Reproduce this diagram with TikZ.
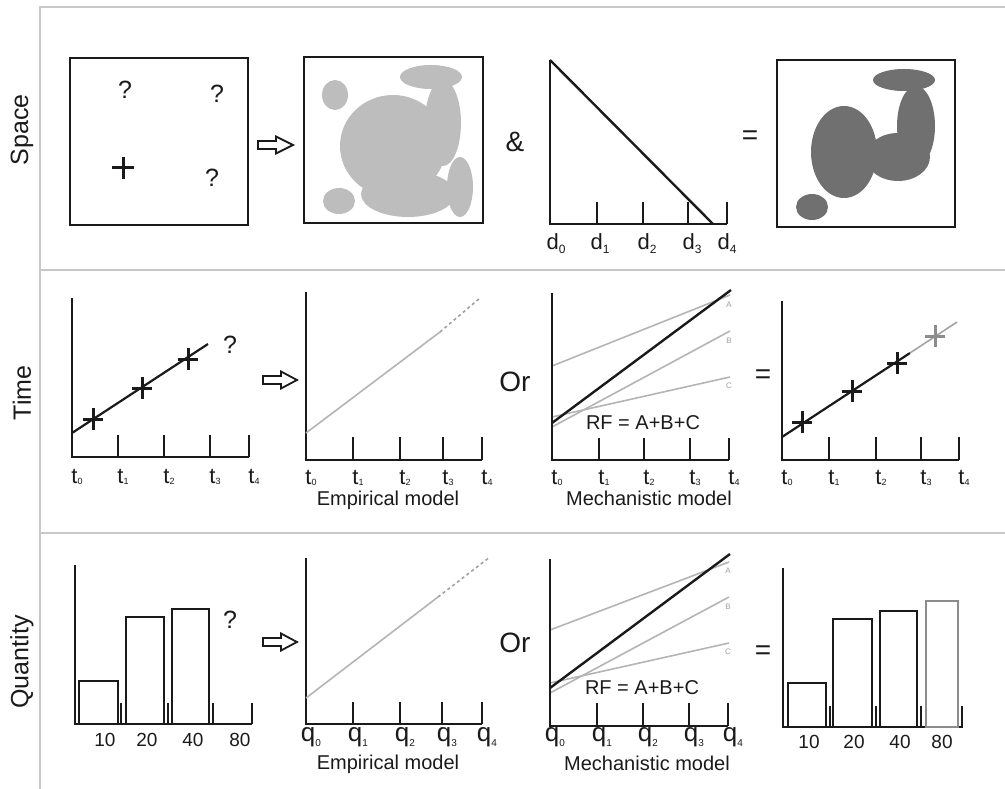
\documentclass[tikz,border=0pt]{standalone}
\usepackage{fontspec}
\setmainfont{Liberation Sans}
\definecolor{frame}{HTML}{C8C8C8}
\definecolor{lgray}{HTML}{BDBDBD}
\definecolor{dgray}{HTML}{707070}
\definecolor{lineg}{HTML}{B4B4B4}
\definecolor{labg}{HTML}{A0A0A0}
\definecolor{midg}{HTML}{8C8C8C}
\definecolor{ink}{HTML}{1A1A1A}
% letter, index, index size, lowering
\newcommand\axl[4]{#1\raisebox{-#4pt}{\fontsize{#3}{#3}\selectfont #2}}
\newcommand\fs[1]{\fontsize{#1}{#1}\selectfont}
\tikzset{
  boxline/.style={draw=ink,line width=2.2pt},
  axisline/.style={draw=ink,line width=2.6pt},
  tickline/.style={draw=ink,line width=2.2pt},
  fitline/.style={draw=ink,line width=2.2pt},
  grayline/.style={draw=lineg,line width=1.6pt},
  dashgray/.style={draw=labg,line width=1.6pt,dash pattern=on 3pt off 3pt},
  crossline/.style={draw=ink,line width=3pt},
  framel/.style={draw=frame,line width=2pt},
  tlab/.style={text=ink,font=\fs{22},inner sep=0pt,anchor=base},
  dlab/.style={text=ink,font=\fs{22},inner sep=0pt,anchor=base},
  qqlab/.style={text=ink,font=\fs{26},inner sep=0pt,anchor=base},
  qlab/.style={text=ink,font=\fs{25},inner sep=0pt},
  numlab/.style={text=ink,font=\fs{19},inner sep=0pt},
  caption/.style={text=ink,font=\fs{20},inner sep=0pt,anchor=base},
  plain/.style={text=ink,font=\fs{20},inner sep=0pt},
  rowlab/.style={text=ink,font=\fs{25},rotate=90,inner sep=0pt},
  sym/.style={text=ink,font=\fs{28},inner sep=0pt},
  abc/.style={text=labg,font=\fs{8},inner sep=0pt},
  hollowarrow/.style={draw=ink,line width=1.8pt,fill=white,line join=miter},
}
\begin{document}
\begin{tikzpicture}[x=1pt,y=-1pt]
\useasboundingbox (0,0) rectangle (1005,789);
% frame
\draw[framel] (40,789) -- (40,7) -- (1005,7);
\draw[framel] (40,270) -- (1005,270);
\draw[framel] (40,533) -- (1005,533);
% row labels
\node[rowlab] (rspace) at (22,130) {Space};
\node[rowlab] (rtime) at (22,393) {Time};
\node[rowlab] (rquant) at (22,662) {Quantity};

% ===== SPACE ROW =====
\draw[boxline] (70,58) rectangle (248,225);
\node[qlab] (q1) at (125,90) {?};
\node[qlab] (q2) at (217,94) {?};
\node[qlab] (q3) at (212,178) {?};
\draw[crossline] (112,168) -- (134,168) (123,157) -- (123,179);
% arrow
\draw[hollowarrow] (258,141) -- (276,141) -- (276,136.5) -- (293,145) -- (276,153.5) -- (276,149) -- (258,149) -- cycle;
% blobs light
\begin{scope}[fill=lgray]
\fill (335,95) ellipse [x radius=13,y radius=15];
\fill (431,77) ellipse [x radius=31,y radius=12];
\fill (443,123) ellipse [x radius=18,y radius=43];
\fill (393,146) ellipse [x radius=53,y radius=51];
\fill (408,194) ellipse [x radius=47,y radius=23];
\fill (460,187) ellipse [x radius=13,y radius=30];
\fill (339,201) ellipse [x radius=16,y radius=13];
\end{scope}
\draw[boxline] (304,57) rectangle (483,223);
\node[sym] (amp) at (515,142) {\&};
% distance plot
\draw[axisline] (550,60) -- (550,224) -- (727,224);
\foreach \x in {597,643,688,727} \draw[tickline] (\x,224) -- (\x,202);
\draw[fitline,line width=2.4pt] (550,60) -- (713,224);
\foreach \x/\i in {556/0,600/1,647/2,692/3,727/4}
  \node[dlab] (d\i) at (\x,250) {\axl{d}{\i}{12}{4}};
\node[sym] (eq1) at (750,138) {=};
% dark blobs
\begin{scope}[fill=dgray]
\fill (904,80) ellipse [x radius=31,y radius=11];
\fill (916,126) ellipse [x radius=19,y radius=40];
\fill (844,152) ellipse [x radius=33,y radius=46];
\fill (898,157) ellipse [x radius=32,y radius=24];
\fill (812,207) ellipse [x radius=16,y radius=13];
\end{scope}
\draw[boxline] (777,60) rectangle (955,227);

% ===== TIME ROW =====
\draw[axisline] (72,298) -- (72,457) -- (249,457);
\foreach \x in {118,164,210,249} \draw[tickline] (\x,457) -- (\x,435);
\draw[fitline] (72,433) -- (208,344);
\foreach \x/\y in {93/419,142/388,188/359}
  \draw[crossline] (\x-10,\y) -- (\x+10,\y) (\x,\y-11) -- (\x,\y+11);
\node[qlab] (q4) at (230,345) {?};
\foreach \x/\i in {77/0,123/1,169/2,215/3,254/4}
  \node[tlab] (ta\i) at (\x,483) {\axl{t}{\i}{9}{1}};
\draw[hollowarrow] (263,376) -- (281,376) -- (281,371.5) -- (297,380) -- (281,388.5) -- (281,384) -- (263,384) -- cycle;
% empirical
\draw[axisline] (306,292) -- (306,460) -- (482,460);
\foreach \x in {353,400,443,482} \draw[tickline] (\x,460) -- (\x,437);
\draw[grayline] (306,433) -- (440,332);
\draw[dashgray] (440,332) -- (480,298);
\foreach \x/\i in {311/0,358/1,405/2,448/3,487/4}
  \node[tlab] (tb\i) at (\x,484) {\axl{t}{\i}{9}{1}};
\node[caption] (emp1) at (388,505) {Empirical model};
% mechanistic
\node[sym] (or1) at (515,382) {Or};
\draw[grayline] (552,366) -- (730,295);
\draw[grayline] (552,427) -- (730,331);
\draw[grayline] (552,417) -- (730,377);
\draw[fitline,line width=2.4pt] (552,423) -- (731,290);
\draw[axisline] (552,293) -- (552,460) -- (729,460);
\foreach \x in {599,644,690,729} \draw[tickline] (\x,460) -- (\x,438);
\node[abc] (la1) at (729,305) {A};
\node[abc] (lb1) at (729,341) {B};
\node[abc] (lc1) at (729,386) {C};
\node[plain] (rf1) at (643,423) {RF = A+B+C};
\foreach \x/\i in {557/0,604/1,649/2,695/3,734/4}
  \node[tlab] (tc\i) at (\x,484) {\axl{t}{\i}{9}{1}};
\node[caption] (mech1) at (649,505) {Mechanistic model};
\node[sym] (eq2) at (763,377) {=};
% result
\draw[axisline] (782,301) -- (782,460) -- (959,460);
\foreach \x in {829,876,921,959} \draw[tickline] (\x,460) -- (\x,437);
\draw[fitline] (782,437) -- (910,353);
\draw[grayline,draw=midg!80] (910,353) -- (957,322);
\foreach \x/\y in {802/422,852/391,897/363}
  \draw[crossline] (\x-10,\y) -- (\x+10,\y) (\x,\y-11) -- (\x,\y+11);
\draw[crossline,draw=midg] (925,336) -- (945,336) (935,325) -- (935,347);
\foreach \x/\i in {787/0,834/1,881/2,926/3,964/4}
  \node[tlab] (td\i) at (\x,484) {\axl{t}{\i}{9}{1}};

% ===== QUANTITY ROW =====
\draw[axisline] (75,565) -- (75,724) -- (252,724);
\draw[boxline] (79,724) rectangle (118,681);
\draw[boxline] (126,724) rectangle (164,617);
\draw[boxline] (172,724) rectangle (209,609);
\foreach \x in {121,168,213,252} \draw[tickline] (\x,724) -- (\x,703);
\foreach \x/\n in {105/10,147/20,193/40,240/80}
  \node[numlab] (na\n) at (\x,740) {\n};
\node[qlab] (q5) at (230,620) {?};
\draw[hollowarrow] (263,638) -- (281,638) -- (281,633.5) -- (297,642) -- (281,650.5) -- (281,646) -- (263,646) -- cycle;
% empirical q
\draw[axisline] (306,558) -- (306,724) -- (482,724);
\foreach \x in {353,400,442,482} \draw[tickline] (\x,724) -- (\x,702);
\draw[grayline] (306,698) -- (438,597);
\draw[dashgray] (438,597) -- (490,557);
\foreach \x/\i in {311/0,358/1,405/2,447/3,487/4}
  \node[qqlab] (qa\i) at (\x,741) {\axl{q}{\i}{10}{5}};
\node[caption] (emp2) at (388,769) {Empirical model};
% mechanistic q
\node[sym] (or2) at (515,643) {Or};
\draw[grayline] (550,630) -- (729,562);
\draw[grayline] (550,693) -- (729,597);
\draw[grayline] (550,683) -- (729,643);
\draw[fitline,line width=2.4pt] (550,688) -- (730,554);
\draw[axisline] (550,559) -- (550,726) -- (728,726);
\foreach \x in {597,643,689,728} \draw[tickline] (\x,726) -- (\x,703);
\node[abc] (la2) at (728,571) {A};
\node[abc] (lb2) at (728,607) {B};
\node[abc] (lc2) at (728,652) {C};
\node[plain] (rf2) at (642,688) {RF = A+B+C};
\foreach \x/\i in {555/0,602/1,648/2,694/3,733/4}
  \node[qqlab] (qb\i) at (\x,741) {\axl{q}{\i}{10}{5}};
\node[caption] (mech2) at (647,770) {Mechanistic model};
\node[sym] (eq3) at (763,653) {=};
% result bars
\draw[axisline] (783,568) -- (783,727) -- (963,727);
\draw[boxline] (788,727) rectangle (826,683);
\draw[boxline] (833,727) rectangle (872,619);
\draw[boxline] (880,727) rectangle (917,611);
\draw[boxline,draw=midg] (926,727) rectangle (958,601);
\foreach \x in {830,876,921,962} \draw[tickline] (\x,727) -- (\x,706);
\foreach \x/\n in {809/10,854/20,900/40,942/80}
  \node[numlab] (nb\n) at (\x,742) {\n};
\end{tikzpicture}
\end{document}
